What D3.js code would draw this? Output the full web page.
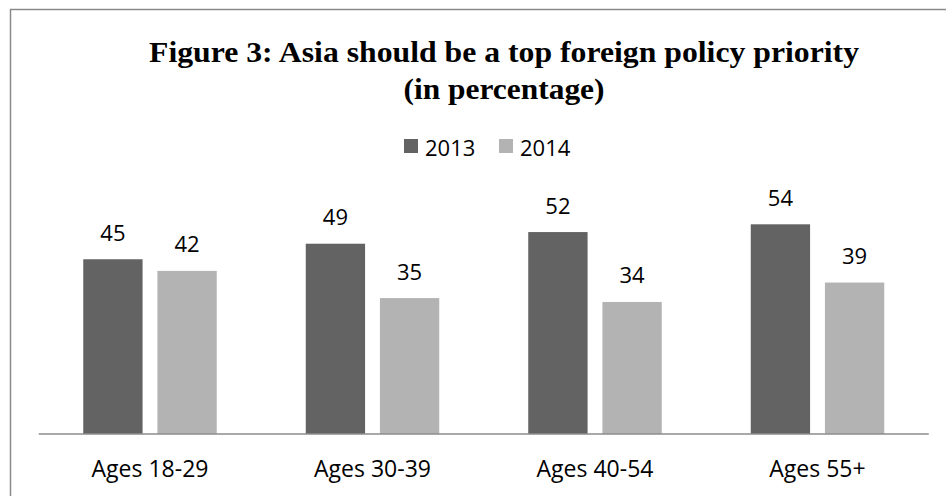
<!DOCTYPE html>
<html>
<head>
<meta charset="utf-8">
<script src="https://cdn.jsdelivr.net/npm/d3@7"></script>
<style>
  html, body { margin: 0; padding: 0; background: #fff; }
  svg { display: block; }
</style>
</head>
<body>
<svg id="chart" width="946" height="496"></svg>
<script>
// Survey data: share saying Asia should be a top foreign policy priority
const categories = ["Ages 18-29", "Ages 30-39", "Ages 40-54", "Ages 55+"];
const seriesNames = ["2013", "2014"];
const values2013 = [45, 49, 52, 54];
const values2014 = [42, 35, 34, 39];
const titleLines = ["Figure 3: Asia should be a top foreign policy priority", "(in percentage)"];

const seriesValues = { "2013": values2013, "2014": values2014 };
const colors = { "2013": "#636363", "2014": "#b3b3b3" };

const svg = d3.select("#chart");
const labelFont = "'Open Sans', sans-serif";
const labelSize = 22;
const axisLabelSize = 23;

// Frame around the chart
svg.append("rect")
  .attr("x", 10.5).attr("y", 9.5)
  .attr("width", 1000).attr("height", 600)
  .attr("fill", "none").attr("stroke", "#8a8a8a").attr("stroke-width", 1.5);

// Title (two centred lines, widths fitted to the layout)
const titleWidths = [710, 201];
const title = svg.append("text")
  .attr("text-anchor", "middle")
  .attr("font-family", "'Liberation Serif', 'Times New Roman', serif")
  .attr("font-weight", "bold")
  .attr("font-size", 29)
  .attr("fill", "#000");
title.selectAll("tspan").data(titleLines).join("tspan")
  .attr("x", 504)
  .attr("y", (d, i) => 62 + i * 37)
  .attr("textLength", (d, i) => titleWidths[i])
  .attr("lengthAdjust", "spacingAndGlyphs")
  .text(d => d);

// Scales
const x0 = d3.scaleBand().domain(categories).range([38.75, 928.75]).paddingInner(0).paddingOuter(0);
const x1 = d3.scaleBand().domain(seriesNames).range([0, x0.bandwidth()]).paddingInner(0.2).paddingOuter(0.6);
const y = d3.scaleLinear().domain([0, 60]).range([434, 201]);

// Bars
const groups = svg.append("g").selectAll("g").data(categories).join("g")
  .attr("transform", d => `translate(${x0(d)},0)`);

const cells = groups.selectAll("g.cell")
  .data((c, ci) => seriesNames.map(s => ({ series: s, value: seriesValues[s][ci] })))
  .join("g").attr("class", "cell");

cells.append("rect")
  .attr("x", d => x1(d.series))
  .attr("y", d => y(d.value))
  .attr("width", x1.bandwidth())
  .attr("height", d => y(0) - y(d.value))
  .attr("fill", d => colors[d.series]);

cells.append("text")
  .attr("x", d => x1(d.series) + x1.bandwidth() / 2)
  .attr("y", d => y(d.value) - 18.5)
  .attr("text-anchor", "middle")
  .attr("font-family", labelFont)
  .attr("font-size", labelSize)
  .attr("fill", "#000")
  .text(d => d.value);

// Category axis
const xAxis = d3.axisBottom(x0).tickSize(0).tickPadding(0);
const axisG = svg.append("g").attr("transform", `translate(0,${y(0)})`).call(xAxis);
axisG.select(".domain").attr("stroke", "#8c8c8c").attr("stroke-width", 1.5)
  .attr("d", `M${x0.range()[0]},0H${x0.range()[1]}`);
axisG.selectAll(".tick text")
  .attr("dy", null)
  .attr("y", 43)
  .attr("font-family", labelFont)
  .attr("font-size", axisLabelSize)
  .attr("fill", "#000");

// Legend
const legendItems = [
  { name: "2013", x: 404 },
  { name: "2014", x: 499 }
];
const legend = svg.append("g").selectAll("g").data(legendItems).join("g")
  .attr("transform", d => `translate(${d.x},139)`);
legend.append("rect")
  .attr("width", 14).attr("height", 14)
  .attr("fill", d => colors[d.name]);
legend.append("text")
  .attr("x", 21).attr("y", 16.5)
  .attr("font-family", labelFont)
  .attr("font-size", labelSize)
  .attr("fill", "#000")
  .text(d => d.name);
</script>
</body>
</html>
